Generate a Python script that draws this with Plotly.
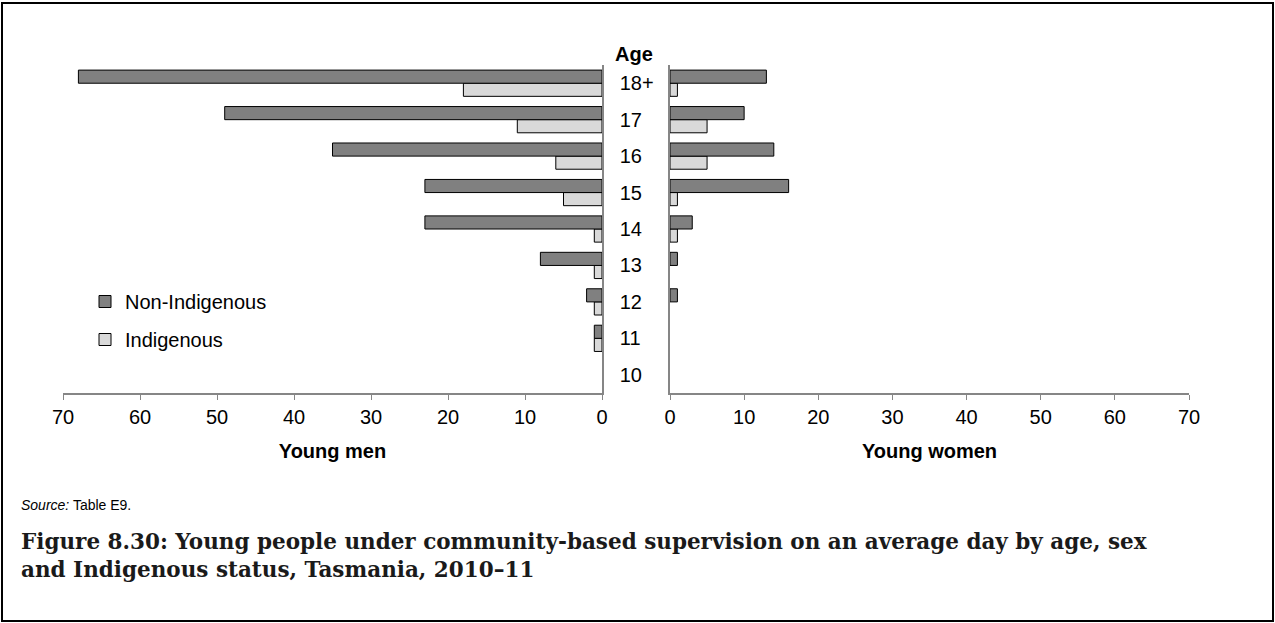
import plotly.graph_objects as go

ages = ["10", "11", "12", "13", "14", "15", "16", "17", "18+"]

men_non_indigenous = [0, 1, 2, 8, 23, 23, 35, 49, 68]
men_indigenous = [0, 1, 1, 1, 1, 5, 6, 11, 18]
women_non_indigenous = [0, 0, 1, 1, 3, 16, 14, 10, 13]
women_indigenous = [0, 0, 0, 0, 1, 1, 5, 5, 1]

tick_vals = [0, 10, 20, 30, 40, 50, 60, 70]

dark = "#808080"
light = "#d9d9d9"
axis_grey = "#868686"
font = "Liberation Sans, Arial, sans-serif"


def nz(vals):
    # zero counts get no bar at all (plotly would draw a hairline outline)
    return [v if v else None for v in vals]


fig = go.Figure()

# Indigenous first so that Non-Indigenous sits on top in each age group
fig.add_trace(go.Bar(y=ages, x=nz(men_indigenous), orientation="h", name="Indigenous",
                     marker=dict(color=light, line=dict(color="#000", width=1)),
                     xaxis="x", yaxis="y", legendgroup="ind", legendrank=2))
fig.add_trace(go.Bar(y=ages, x=nz(men_non_indigenous), orientation="h", name="Non-Indigenous",
                     marker=dict(color=dark, line=dict(color="#000", width=1)),
                     xaxis="x", yaxis="y", legendgroup="non", legendrank=1))
fig.add_trace(go.Bar(y=ages, x=nz(women_indigenous), orientation="h", name="Indigenous",
                     marker=dict(color=light, line=dict(color="#000", width=1)),
                     xaxis="x2", yaxis="y2", legendgroup="ind", showlegend=False))
fig.add_trace(go.Bar(y=ages, x=nz(women_non_indigenous), orientation="h", name="Non-Indigenous",
                     marker=dict(color=dark, line=dict(color="#000", width=1)),
                     xaxis="x2", yaxis="y2", legendgroup="non", showlegend=False))

W, H = 1275, 623
L, R, T, B = 63, 86, 65, 230
pw = W - L - R
ph = H - T - B


def px_x(p):
    return (p - L) / pw


def px_y(p):
    return (H - B - p) / ph


xcommon = dict(tickvals=tick_vals, ticks="outside", ticklen=5, tickcolor=axis_grey,
               showline=True, linecolor=axis_grey, linewidth=1.5, showgrid=False,
               zeroline=False, tickfont=dict(size=20, color="#000", family=font),
               title_font=dict(size=20, color="#000", family=font), title_standoff=17)

fig.update_layout(
    width=W, height=H,
    margin=dict(l=L, r=R, t=T, b=B),
    paper_bgcolor="white", plot_bgcolor="white",
    barmode="group", bargap=0.28, bargroupgap=0,
    font=dict(family=font, color="#000"),
    xaxis=dict(domain=[0, px_x(602)], range=[70, 0], anchor="y",
               title_text="<b>Young men</b>", **xcommon),
    xaxis2=dict(domain=[px_x(670), 1], range=[0, 70], anchor="y2",
                title_text="<b>Young women</b>", **xcommon),
    yaxis=dict(domain=[0, 1], side="right", anchor="x", showline=True,
               linecolor=axis_grey, linewidth=1.5, ticks="outside", ticklen=12,
               tickcolor="rgba(0,0,0,0)", showgrid=False, range=[-0.5, 8.5],
               tickfont=dict(size=20, color="#000", family=font)),
    yaxis2=dict(domain=[0, 1], side="left", anchor="x2", showline=True,
                linecolor=axis_grey, linewidth=1.5, showticklabels=False,
                showgrid=False, range=[-0.5, 8.5]),
    legend=dict(x=px_x(85), y=px_y(282), xanchor="left", yanchor="top",
                font=dict(size=20, color="#000", family=font), itemwidth=30,
                bgcolor="rgba(0,0,0,0)", tracegroupgap=9,
                traceorder="grouped"),
    showlegend=True,
)

fig.add_annotation(text="<b>Age</b>", x=px_x(634), y=px_y(54), xref="paper", yref="paper",
                   yanchor="middle", showarrow=False,
                   font=dict(size=20, family=font, color="#000"))
fig.add_annotation(text="<i>Source:</i> Table E9.", x=px_x(19), y=px_y(505),
                   xref="paper", yref="paper", xanchor="left", yanchor="middle",
                   showarrow=False, font=dict(size=14, family=font, color="#000"))
fig.add_annotation(
    text="<b>Figure 8.30: Young people under community-based supervision on an average day by age, sex"
         "<br>and Indigenous status, Tasmania, 2010\u201311</b>",
    x=px_x(19), y=px_y(555.5), xref="paper", yref="paper", xanchor="left", yanchor="middle",
    align="left", showarrow=False,
    font=dict(size=21.5, family="DejaVu Serif, serif", color="#1a1a1a"))

fig.add_shape(type="rect", xref="paper", yref="paper",
              x0=px_x(2), x1=px_x(1273), y0=px_y(621), y1=px_y(3),
              line=dict(color="#000", width=2), fillcolor="rgba(0,0,0,0)")

# drop the browser's default 8px body margin so the figure sits at the page origin
fig.write_html("out.html", config={"displayModeBar": False},
               post_script="document.body.style.margin='0';")
